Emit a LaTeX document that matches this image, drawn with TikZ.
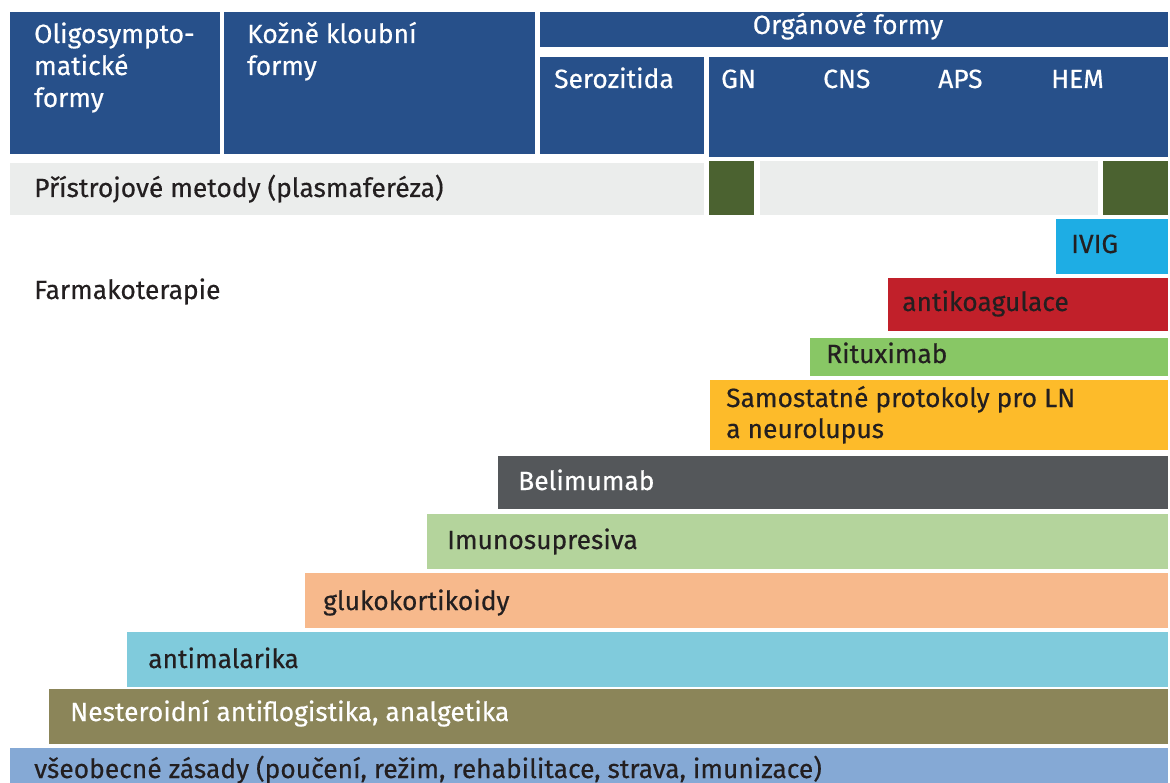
\documentclass[tikz,border=0pt]{standalone}
\usepackage{fontspec}
\setmainfont{Fira Sans}[FakeBold=0.4]
\definecolor{hdr}{HTML}{27508A}
\definecolor{pgray}{HTML}{EBEDEC}
\definecolor{dgreen}{HTML}{4B6230}
\definecolor{ivig}{HTML}{1EADE4}
\definecolor{antik}{HTML}{C1202A}
\definecolor{ritux}{HTML}{88C765}
\definecolor{samo}{HTML}{FDBB2A}
\definecolor{beli}{HTML}{54575A}
\definecolor{imuno}{HTML}{B4D49C}
\definecolor{gluko}{HTML}{F7B98C}
\definecolor{antim}{HTML}{80CBDC}
\definecolor{nester}{HTML}{8B8559}
\definecolor{vseob}{HTML}{85A9D5}
\definecolor{txt}{HTML}{231F20}
\begin{document}
\begin{tikzpicture}[x=1pt,y=-1pt,
  lbl/.style={anchor=base west,inner sep=0pt,font=\fontsize{26.4}{32}\selectfont,text=txt},
  wlbl/.style={lbl,text=white}]
\useasboundingbox (0,0) rectangle (1170,783);
% header
\fill[hdr] (10,12) rectangle (220,154);
\fill[hdr] (224,12) rectangle (535,154);
\fill[hdr] (540,12) rectangle (1168,47);
\fill[hdr] (540,57) rectangle (704,154);
\fill[hdr] (709,57) rectangle (1168,157);
\node[wlbl] (oligo1) at (34,43) {Oligosympto-};
\node[wlbl] (oligo2) at (34,75) {matické};
\node[wlbl] (oligo3) at (34,107) {formy};
\node[wlbl] (kozne1) at (247,43) {Kožně kloubní};
\node[wlbl] (kozne2) at (247,75) {formy};
\node[wlbl,anchor=base] (organ) at (848,34) {Orgánové formy};
\node[wlbl] (sero) at (554,88) {Serozitida};
\node[wlbl] (gn) at (721,88) {GN};
\node[wlbl] (cns) at (823,88) {CNS};
\node[wlbl] (aps) at (938,88) {APS};
\node[wlbl] (hem) at (1051,88) {HEM};
% plasmapheresis
\fill[pgray] (10,163) rectangle (704,215);
\fill[dgreen] (709,161) rectangle (754,215);
\fill[pgray] (760,161) rectangle (1098,215);
\fill[dgreen] (1103,161) rectangle (1168,215);
\node[lbl] (pristr) at (34,197) {Přístrojové metody (plasmaferéza)};
\node[lbl] (farmako) at (34,299) {Farmakoterapie};
% pharmacotherapy steps
\fill[ivig] (1056,219) rectangle (1168,274);
\node[lbl] (ivigt) at (1071,253) {IVIG};
\fill[antik] (888,278) rectangle (1168,331);
\node[lbl] (antikt) at (902,311) {antikoagulace};
\fill[ritux] (810,338) rectangle (1168,376);
\node[lbl] (rituxt) at (826,363) {Rituximab};
\fill[samo] (710,380) rectangle (1168,450);
\node[lbl] (samot1) at (726,407) {Samostatné protokoly pro LN};
\node[lbl] (samot2) at (726,438) {a neurolupus};
\fill[beli] (498,456) rectangle (1168,509);
\node[wlbl] (belit) at (518,490) {Belimumab};
\fill[imuno] (427,514) rectangle (1168,569);
\node[lbl] (imunot) at (447,549) {Imunosupresiva};
\fill[gluko] (305,573) rectangle (1168,628);
\node[lbl] (glukot) at (323,610) {glukokortikoidy};
\fill[antim] (127,632) rectangle (1168,687);
\node[lbl] (antimt) at (148,668) {antimalarika};
\fill[nester] (49,689) rectangle (1168,744);
\node[wlbl] (nestert) at (70,721) {Nesteroidní antiflogistika, analgetika};
\fill[vseob] (10,748) rectangle (1168,783);
\node[lbl] (vseobt) at (34,778) {všeobecné zásady (poučení, režim, rehabilitace, strava, imunizace)};
\end{tikzpicture}
\end{document}
